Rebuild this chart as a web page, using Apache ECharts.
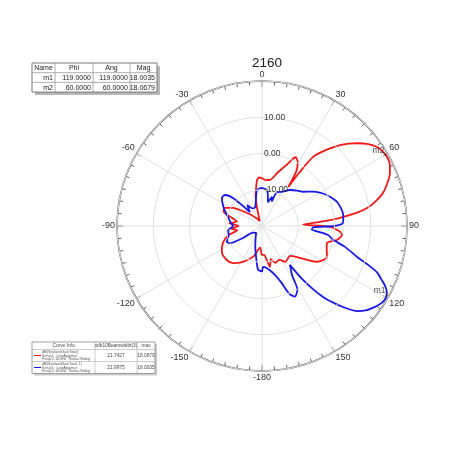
<!DOCTYPE html>
<html>
<head>
<meta charset="utf-8">
<script src="https://cdn.jsdelivr.net/npm/echarts@6/dist/echarts.min.js"></script>
<style>
html,body{margin:0;padding:0;background:#fff;}
#chart{width:450px;height:450px;}
</style>
</head>
<body>
<div id="chart"></div>
<script>
// ---- data (angle in degrees, 0 = top, clockwise; magnitude in dB) ----
const title = '2160';
const redAngles = [-180,-175,-164,-152,-142,-134,-123,-113,-105,-100,-95,-90,-85,-80,-75,-69,-64,-58,-52,-45,-35,-25,-18,-15,-12,-9,-6,-3,0,5,10,16,22,26,29,32,34,35,36.5,40,44,46.5,49,52,55.5,58,61,64,67.5,71,74.7,78,80.3,82,84,86,88,90.5,94,96.4,100.6,104.7,110,115.5,123,130,137,147,153,160,165,169,172,176];
const redDb = [-12,-14,-11.2,-8.8,-7.0,-6.5,-6.8,-8.3,-10.5,-13,-11.5,-13.5,-11,-13,-11.5,-8.6,-8.6,-10.6,-13.4,-15.5,-17.5,-18.5,-17,-14.5,-11.5,-9.5,-7.2,-6.6,-6.8,-7.3,-7.1,-4.8,-1.8,1.1,0.3,-2,-7,-2,3.7,7.3,11,13,14.8,16.8,18.5,19.1,19.4,19.2,18.2,16.6,14.6,11.8,9.4,6.5,1.6,-4,-8.7,-1.5,1.5,2.2,1.0,-1.5,-1,-0.1,-1.9,-6.3,-8.7,-8.2,-9.5,-9.2,-10.5,-8.5,-10.5,-12];
const blueAngles = [-180,-175,-172,-162,-150,-140,-128,-122,-118,-114,-105,-97,-90,-83,-75,-68,-62,-55,-50,-46,-41,-35,-28,-20,-12,-8,-3,0,5,8,11,14,19,22,24,30,38,45,50,56,62,67,72,77,81,85,88,90,91.5,94,96,98,101,104,108,110,112,114,116,118,120,122,124,126,128.7,131.8,135,137,139.3,141,142.8,144.3,148.5,151,155,158,161,165,170,175,178.6];
const blueDb = [-7.5,-7.9,-9.7,-14,-16.5,-17.5,-17,-13.5,-10,-9.4,-10.5,-10.6,-12,-11.2,-10.3,-9,-7.8,-6.5,-6.7,-9,-14.9,-12.9,-14.5,-14.5,-12,-10,-9.6,-9.5,-9.8,-10,-11.5,-13.2,-11.5,-12.7,-9.8,-9.1,-7.4,-6.2,-5.3,-3,-0.9,0.5,1.7,2.3,2.6,2.5,2.3,0,-5.9,-6.2,-4,-1.5,0,3.5,7.6,11,14.3,16,17.8,19,19.5,19.4,18.9,18.2,17.1,15.2,11.6,9,5.8,2.5,-1.3,-6.8,-4.1,0.1,1.5,0.2,-3.4,-6,-7.6,-8.5,-8.7];
const markerNames = ['m1','m2'];
const markerAngles = [119, 60];
const markerDb = [19.3, 19.3];
const markerHeader = ['Name','Phi','Ang','Mag'];
const markerRows = [['m1','119.0000','119.0000','18.0035'],['m2','60.0000','60.0000','18.0679']];
const curveHeader = ['Curve Info','xdb10Beamwidth(3)','max'];
const curveInfo = [
  "dB(RealizedGainTotal)\nSetup1 : LastAdaptive\nFreq='2.16GHz' Theta='90deg'",
  "dB(RealizedGainTotal_1)\nSetup1 : LastAdaptive\nFreq='2.16GHz' Theta='90deg'"
];
const curveBeamwidth = ['21.7427','21.9975'];
const curveMax = ['18.0679','18.0035'];
const radiusLabels = [-10, 0, 10];

// ---- helpers ----
function toPolar(angles, vals) {
  const pts = angles.map((a, i) => [vals[i], a < 0 ? a + 360 : a]);
  pts.sort((p, q) => p[1] - q[1]);
  pts.push([pts[0][0], pts[0][1] + 360]);
  return pts;
}
const colors = ['#f01818', '#1818e8'];
const FONT = 'Liberation Sans, Arial, sans-serif';

function markerTable() {
  const x0 = 32, y0 = 63, colW = [23, 38, 37, 27], rh = 9.7;
  const W = colW.reduce((a, b) => a + b, 0), H = rh * 3;
  const els = [];
  els.push({type:'rect', shape:{x:x0+3,y:y0+3,width:W,height:H}, style:{fill:'#b8b8b8'}});
  els.push({type:'rect', shape:{x:x0,y:y0,width:W,height:H}, style:{fill:'#fff',stroke:'#777',lineWidth:1}});
  for (let i = 1; i < 3; i++) els.push({type:'line', shape:{x1:x0,y1:y0+rh*i,x2:x0+W,y2:y0+rh*i}, style:{stroke:'#999',lineWidth:0.8}});
  const rows = [markerHeader].concat(markerRows);
  let cx = x0;
  colW.forEach((w, c) => {
    if (c > 0) els.push({type:'line', shape:{x1:cx,y1:y0,x2:cx,y2:y0+H}, style:{stroke:'#999',lineWidth:0.8}});
    rows.forEach((r, i) => {
      const right = i > 0;
      els.push({type:'text', style:{x: right ? cx + w - 2 : cx + w / 2, y: y0 + rh * i + rh / 2 + 0.5,
        text: r[c], fill:'#222', fontSize:7, fontFamily:FONT, align: right ? 'right' : 'center', verticalAlign:'middle'}});
    });
    cx += w;
  });
  return els;
}
function curveTable() {
  const x0 = 32, y0 = 342, colW = [63, 42, 18], hh = 7.5, rh = 12;
  const W = colW.reduce((a, b) => a + b, 0), H = hh + rh * 2;
  const els = [];
  els.push({type:'rect', shape:{x:x0+2,y:y0+2,width:W,height:H}, style:{fill:'#ccc'}});
  els.push({type:'rect', shape:{x:x0,y:y0,width:W,height:H}, style:{fill:'#fff',stroke:'#888',lineWidth:0.8}});
  let cx = x0;
  colW.forEach((w, c) => {
    if (c > 0) els.push({type:'line', shape:{x1:cx,y1:y0,x2:cx,y2:y0+H}, style:{stroke:'#aaa',lineWidth:0.6}});
    els.push({type:'text', style:{x:cx+w/2, y:y0+hh/2+0.3, text:curveHeader[c], fill:'#444', fontSize:4.8, fontFamily:FONT, align:'center', verticalAlign:'middle'}});
    cx += w;
  });
  for (let i = 0; i < 2; i++) {
    const yy = y0 + hh + rh * i;
    els.push({type:'line', shape:{x1:x0,y1:yy,x2:x0+W,y2:yy}, style:{stroke:'#aaa',lineWidth:0.6}});
    els.push({type:'line', shape:{x1:x0+2,y1:yy+rh/2,x2:x0+9,y2:yy+rh/2}, style:{stroke:colors[i],lineWidth:1}});
    els.push({type:'text', style:{x:x0+10, y:yy+rh/2, text:curveInfo[i], fill:'#555', fontSize:3.6, lineHeight:3.8, fontFamily:FONT, align:'left', verticalAlign:'middle'}});
    els.push({type:'text', style:{x:x0+colW[0]+colW[1]/2, y:yy+rh/2, text:curveBeamwidth[i], fill:'#444', fontSize:4.8, fontFamily:FONT, align:'center', verticalAlign:'middle'}});
    els.push({type:'text', style:{x:x0+colW[0]+colW[1]+colW[2]/2, y:yy+rh/2, text:curveMax[i], fill:'#444', fontSize:4.8, fontFamily:FONT, align:'center', verticalAlign:'middle'}});
  }
  return els;
}

const chart = echarts.init(document.getElementById('chart'), null, {renderer:'canvas'});
chart.setOption({
  animation: false,
  backgroundColor: '#fff',
  title: {text: title, left: 262, top: 51, textAlign: 'center',
    textStyle: {fontSize: 13.5, fontWeight: 'normal', color: '#222', fontFamily: FONT}},
  polar: {center: [262, 226], radius: 145},
  angleAxis: {
    type: 'value', min: 0, max: 360, interval: 30, startAngle: 90, clockwise: true,
    axisLine: {lineStyle: {color: '#555', width: 1.5}},
    axisTick: {show: true, inside: true, length: 6, lineStyle: {color: '#555'}},
    minorTick: {show: true, splitNumber: 6, length: 4, lineStyle: {color: '#666'}},
    axisLabel: {margin: 2, color: '#333', fontSize: 9, fontFamily: FONT,
      formatter: v => v === 360 ? '' : String(v >= 180 ? v - 360 : v)},
    splitLine: {show: true, lineStyle: {color: '#e0e0e0', width: 1}}
  },
  radiusAxis: {
    type: 'value', min: -20, max: 20, interval: 10, z: 10,
    axisLine: {show: false}, axisTick: {show: false},
    axisLabel: {margin: -2, align: 'left', verticalAlign: 'middle', padding: [0, 0, 4, 0],
      color: '#333', fontSize: 8.5, fontFamily: FONT,
      formatter: v => radiusLabels.indexOf(v) >= 0 ? v.toFixed(2) : ''},
    splitLine: {show: true, lineStyle: {color: '#e0e0e0', width: 1}}
  },
  series: [
    {type: 'line', coordinateSystem: 'polar', data: toPolar(redAngles, redDb), showSymbol: false,
      smooth: 0.25, lineStyle: {color: colors[0], width: 1.8}, z: 3},
    {type: 'line', coordinateSystem: 'polar', data: toPolar(blueAngles, blueDb), showSymbol: false,
      smooth: 0.25, lineStyle: {color: colors[1], width: 1.8}, z: 3},
    {type: 'scatter', coordinateSystem: 'polar', symbol: 'circle', symbolSize: 2,
      itemStyle: {color: '#333'}, z: 6, zlevel: 1,
      data: markerNames.map((n, i) => ({name: n, value: [markerDb[i], markerAngles[i]]})),
      label: {show: true, formatter: p => p.name, position: 'left', offset: [1, -4], distance: 1,
        fontSize: 8.5, color: '#222', fontFamily: FONT}}
  ],
  graphic: markerTable().concat(curveTable())
});
</script>
</body>
</html>
